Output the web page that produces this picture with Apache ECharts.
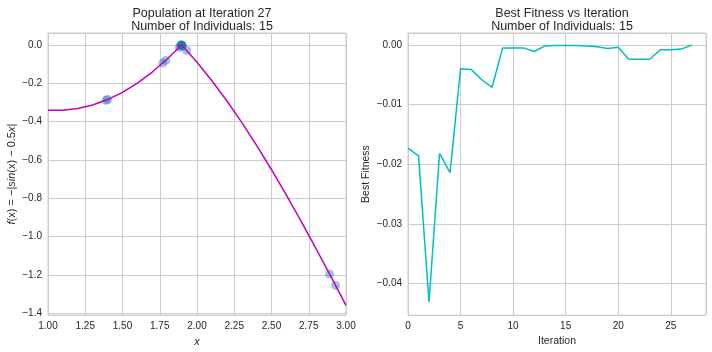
<!DOCTYPE html>
<html>
<head>
<meta charset="utf-8">
<script src="https://cdn.jsdelivr.net/npm/echarts@6/dist/echarts.min.js"></script>
<style>
  html, body { margin: 0; padding: 0; background: #fff; }
  #chart { width: 712px; height: 352px; }
</style>
</head>
<body>
<div id="chart"></div>
<script>
// left panel: curve f(x) = -|sin(x) - 0.5x|
const curveX = [1.0, 1.1, 1.2, 1.3, 1.4, 1.5, 1.6, 1.7, 1.8, 1.85, 1.8955, 1.95, 2.0, 2.1, 2.2, 2.3, 2.4, 2.5, 2.6, 2.7, 2.8, 2.9, 3.0]
const curveY = [-0.3415, -0.3412, -0.332, -0.3136, -0.2854, -0.2475, -0.1996, -0.1417, -0.0738, -0.0362, 0.0, -0.0469, -0.0907, -0.1868, -0.2915, -0.4043, -0.5245, -0.6515, -0.7845, -0.9226, -1.065, -1.2108, -1.3589]

// population (15 individuals)
const popX = [1.39, 1.40, 1.77, 1.79, 1.88, 1.89, 1.895, 1.895, 1.895, 1.90, 1.90, 1.90, 1.93, 2.89, 2.93]
const popY = [-0.289, -0.285, -0.095, -0.081, -0.013, -0.004, 0.0, 0.0, 0.0, -0.004, -0.004, -0.004, -0.029, -1.196, -1.255]

// right panel: best fitness per iteration
const iterations = [0, 1, 2, 3, 4, 5, 6, 7, 8, 9, 10, 11, 12, 13, 14, 15, 16, 17, 18, 19, 20, 21, 22, 23, 24, 25, 26, 27]
const bestFitness = [-0.0173, -0.0186, -0.0431, -0.0182, -0.0214, -0.0040, -0.0041, -0.0058, -0.0071, -0.0005, -0.0005, -0.0005, -0.0011, -0.0002, -0.0001, -0.0001, -0.0001, -0.0002, -0.0003, -0.0006, -0.0004, -0.0024, -0.0024, -0.0024, -0.0008, -0.0008, -0.0007, 0.0]

const FONT = '"Liberation Sans", Arial, sans-serif'
const TXT = '#262626'
const GRIDC = '#cccccc'

const fmt = (d) => (v) => {
  if (Math.abs(v) < 1e-9) v = 0
  return v.toFixed(d).replace('-', '\u2212')
}

const chart = echarts.init(document.getElementById('chart'), null, { renderer: 'canvas' })

const axisCommon = {
  axisLine: { show: false },
  axisTick: { show: false },
  splitLine: { show: true, lineStyle: { color: GRIDC, width: 1 } },
  axisLabel: { color: TXT, fontSize: 10, fontFamily: FONT, margin: 6 },
  nameTextStyle: { color: TXT, fontSize: 10.5, fontFamily: FONT }
}

const option = {
  backgroundColor: '#fff',
  animation: false,
  title: [
    { text: 'Population at Iteration 27\nNumber of Individuals: 15', left: 197, top: 2, textAlign: 'center',
      textStyle: { color: TXT, fontSize: 12.5, fontWeight: 'normal', fontFamily: FONT, lineHeight: 13 } },
    { text: 'Best Fitness vs Iteration\nNumber of Individuals: 15', left: 557, top: 2, textAlign: 'center',
      textStyle: { color: TXT, fontSize: 12.5, fontWeight: 'normal', fontFamily: FONT, lineHeight: 13 } }
  ],
  grid: [
    { left: 48, top: 33, width: 298, height: 285, show: true, borderColor: GRIDC, borderWidth: 1, backgroundColor: 'transparent' },
    { left: 408, top: 33, width: 298, height: 285, show: true, borderColor: GRIDC, borderWidth: 1, backgroundColor: 'transparent' }
  ],
  xAxis: [
    Object.assign({}, axisCommon, {
      type: 'value', gridIndex: 0, min: 1, max: 3, interval: 0.25,
      name: 'x', nameLocation: 'middle', nameGap: 20,
      nameTextStyle: { color: TXT, fontSize: 11, fontFamily: FONT, fontStyle: 'italic' },
      axisLabel: Object.assign({}, axisCommon.axisLabel, { formatter: fmt(2) })
    }),
    Object.assign({}, axisCommon, {
      type: 'value', gridIndex: 1, min: 0, max: 28.35, interval: 5,
      name: 'Iteration', nameLocation: 'middle', nameGap: 20,
      axisLabel: Object.assign({}, axisCommon.axisLabel, { showMaxLabel: false, formatter: fmt(0) })
    })
  ],
  yAxis: [
    Object.assign({}, axisCommon, {
      type: 'value', gridIndex: 0, min: -1.41, max: 0.062, splitNumber: 7,
      name: '{i|f}(x) = \u2212|{i|sin}(x) \u2212 0.5{i|x}|', nameLocation: 'middle', nameGap: 31,
      nameTextStyle: { color: TXT, fontSize: 11, fontFamily: FONT,
        rich: { i: { fontStyle: 'italic', fontSize: 11, fontFamily: FONT, color: TXT } } },
      axisLabel: Object.assign({}, axisCommon.axisLabel, { showMinLabel: false, showMaxLabel: false, formatter: fmt(1) })
    }),
    Object.assign({}, axisCommon, {
      type: 'value', gridIndex: 1, min: -0.0453, max: 0.002, splitNumber: 5,
      name: 'Best Fitness', nameLocation: 'middle', nameGap: 36,
      axisLabel: Object.assign({}, axisCommon.axisLabel, { showMinLabel: false, showMaxLabel: false, formatter: fmt(2) })
    })
  ],
  series: [
    {
      name: 'population', type: 'scatter', xAxisIndex: 0, yAxisIndex: 0, z: 2,
      symbolSize: 9,
      itemStyle: { color: 'rgba(31,119,180,0.55)' },
      data: popX.map((x, i) => [x, popY[i]])
    },
    {
      name: 'f(x)', type: 'line', xAxisIndex: 0, yAxisIndex: 0, z: 3,
      symbol: 'none', lineStyle: { color: '#bf00bf', width: 1.5 },
      data: curveX.map((x, i) => [x, curveY[i]])
    },
    {
      name: 'best', type: 'line', xAxisIndex: 1, yAxisIndex: 1,
      symbol: 'none', lineStyle: { color: '#00bfbf', width: 1.5 },
      data: iterations.map((x, i) => [x, bestFitness[i]])
    }
  ]
}

chart.setOption(option)
</script>
</body>
</html>
